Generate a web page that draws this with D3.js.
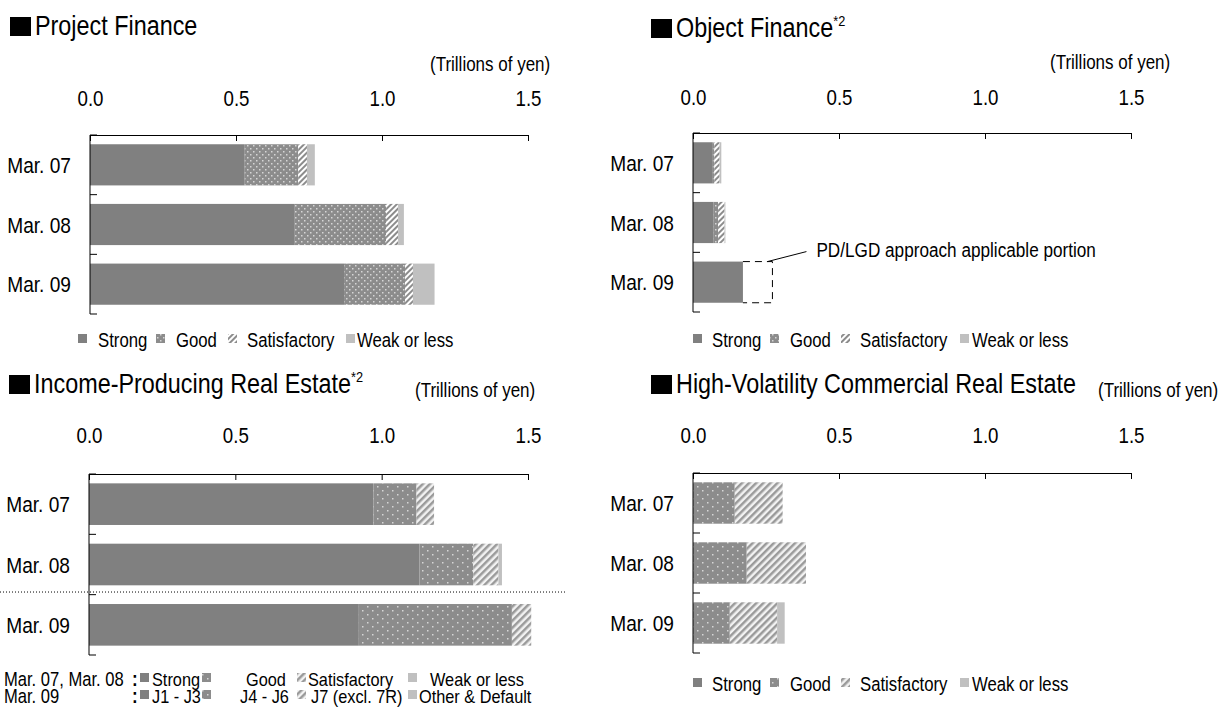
<!DOCTYPE html>
<html>
<head>
<meta charset="utf-8">
<script src="https://cdn.jsdelivr.net/npm/d3@7"></script>
<style>
body { margin: 0; background: #fff; }
svg text { font-family: "Liberation Sans Narrow", "Arial Narrow", "Liberation Sans", Arial, sans-serif; fill: #000; }
</style>
</head>
<body>
<svg id="svg1" width="1224" height="711"></svg>
<script>
// ---- data ----
var categories = ["Mar. 07", "Mar. 08", "Mar. 09"];
var tickValues = [0, 0.5, 1.0, 1.5];
var tickLabels = ["0.0", "0.5", "1.0", "1.5"];
var unitLabel = "(Trillions of yen)";
var gradeNames = ["Strong", "Good", "Satisfactory", "Weak or less"];
var gradeNames09 = ["J1 - J3", "J4 - J6", "J7 (excl. 7R)", "Other & Default"];

// Project Finance
var pfStrong       = [0.530, 0.699, 0.870];
var pfGood         = [0.183, 0.315, 0.209];
var pfSatisfactory = [0.030, 0.041, 0.027];
var pfWeak         = [0.027, 0.020, 0.074];

// Object Finance
var ofStrong       = [0.068, 0.071, 0.171];
var ofGood         = [0.005, 0.015, 0];
var ofSatisfactory = [0.018, 0.022, 0];
var ofWeak         = [0.006, 0.003, 0];
var ofPdLgd        = [0, 0, 0.101];   // dashed portion, Mar. 09

// Income-Producing Real Estate
var ipStrong       = [0.972, 1.129, 0.922];
var ipGood         = [0.147, 0.184, 0.523];
var ipSatisfactory = [0.060, 0.086, 0.066];
var ipWeak         = [0, 0.012, 0];

// High-Volatility Commercial Real Estate
var hvStrong       = [0, 0, 0];
var hvGood         = [0.143, 0.184, 0.126];
var hvSatisfactory = [0.164, 0.203, 0.162];
var hvWeak         = [0, 0, 0.026];

var svg = d3.select("#svg1");

// no narrow face installed, so squeeze the regular one
var SX = 0.85;
function label(parent, x, y, str, size, anchor) {
  return parent.append("text")
    .attr("transform", "translate(" + x + "," + y + ") scale(" + SX + ",1)")
    .attr("text-anchor", anchor || "start")
    .style("font-size", size + "px")
    .text(str);
}

// ---- patterns ----
var defs = svg.append("defs");

function dotPattern(id, w, h, pts) {
  var p = defs.append("pattern").attr("id", id).attr("patternUnits", "userSpaceOnUse")
    .attr("width", w).attr("height", h);
  p.append("rect").attr("width", w).attr("height", h).attr("fill", "#8c8c8c");
  pts.forEach(function(pt) {
    p.append("rect").attr("x", pt[0]).attr("y", pt[1]).attr("width", 1.5).attr("height", 1.5).attr("fill", "#d6d6d6");
  });
}
dotPattern("good", 6, 6, [[1, 1], [4, 4]]);
dotPattern("goodSparse", 10, 8, [[2, 2], [7, 6]]);

function stripePattern(id, w, c1, c2) {
  var p = defs.append("pattern").attr("id", id).attr("patternUnits", "userSpaceOnUse")
    .attr("width", w).attr("height", w).attr("patternTransform", "rotate(45)");
  p.append("rect").attr("width", w).attr("height", w).attr("fill", c2);
  p.append("rect").attr("width", w / 2).attr("height", w).attr("fill", c1);
}
stripePattern("sat", 4, "#8c8c8c", "#ffffff");
stripePattern("satSparse", 5, "#9a9a9a", "#f2f2f2");

var fillsTop = ["#808080", "url(#good)", "url(#sat)", "#c0c0c0"];
var fillsBottom = ["#808080", "url(#goodSparse)", "url(#satSparse)", "#c0c0c0"];

// ---- panel drawing ----
function drawPanel(p, series, fills) {
  var x = d3.scaleLinear().domain([0, 1.5]).range([p.x0, p.x1]);
  var y = d3.scaleBand().domain(categories).range([p.top, p.bottom])
    .paddingInner(0.31).paddingOuter(0.155);

  var g = svg.append("g");

  var rows = categories.map(function(c, i) {
    var o = { cat: c };
    series.forEach(function(s, k) { o["s" + k] = s[i]; });
    return o;
  });
  var layers = d3.stack().keys(series.map(function(s, k) { return "s" + k; }))(rows);

  layers.forEach(function(layer, k) {
    g.selectAll(null).data(layer).enter().append("rect")
      .attr("x", function(d) { return x(d[0]); })
      .attr("width", function(d) { return Math.max(0, x(d[1]) - x(d[0])); })
      .attr("y", function(d) { return y(d.data.cat); })
      .attr("height", y.bandwidth())
      .attr("fill", fills[k]);
  });

  // top axis, ticks pointing into the plot
  var ax = d3.axisTop(x).tickValues(tickValues)
    .tickFormat(function(d, i) { return tickLabels[i]; })
    .tickSizeInner(-6).tickSizeOuter(0).tickPadding(p.pad);
  var axg = g.append("g").attr("transform", "translate(0," + p.top + ")").call(ax);
  axg.attr("font-family", null).attr("font-size", null);
  axg.selectAll("text").style("font-size", "22px").attr("transform", "scale(" + SX + ",1)");
  axg.select(".domain").attr("stroke", "#000");

  // left axis with ticks between the bars
  g.append("line").attr("x1", p.x0).attr("x2", p.x0).attr("y1", p.top).attr("y2", p.bottom)
    .attr("stroke", "#000");
  g.selectAll(null).data(d3.range(0, categories.length + 1)).enter().append("line")
    .attr("x1", p.x0).attr("x2", p.x0 + 7)
    .attr("y1", function(i) { return p.top + i * y.step(); })
    .attr("y2", function(i) { return p.top + i * y.step(); })
    .attr("stroke", "#000");

  categories.forEach(function(c) {
    label(g, p.x0 - 19, y(c) + y.bandwidth() / 2, c, 22.5, "end").attr("dy", "0.36em");
  });

  // title
  svg.append("rect").attr("x", p.tx - 25).attr("y", p.ty - 18).attr("width", 21).attr("height", 19).attr("fill", "#000");
  var t = label(svg, p.tx, p.ty, p.title, 27.5);
  if (p.note) t.append("tspan").attr("dy", -11).style("font-size", "15px").text(p.note);

  label(svg, p.ux, p.uy, unitLabel, 20);

  return { x: x, y: y, g: g };
}

function drawLegend(names, fills, xs, yBase, size) {
  names.forEach(function(n, i) {
    svg.append("rect").attr("x", xs[i][0]).attr("y", yBase - 13).attr("width", 9).attr("height", 9)
      .attr("fill", fills[i]);
    label(svg, xs[i][1], yBase, n, size || 19.7);
  });
}

// Project Finance
var p1 = drawPanel({ x0: 90, x1: 528, top: 135, bottom: 314, pad: 29,
  title: "Project Finance", tx: 35, ty: 35, ux: 430, uy: 71 },
  [pfStrong, pfGood, pfSatisfactory, pfWeak], fillsTop);
drawLegend(gradeNames, fillsTop, [[78, 98], [156, 176], [228, 247], [346, 357]], 347);

// Object Finance
var p2 = drawPanel({ x0: 693, x1: 1131, top: 133, bottom: 312, pad: 28,
  title: "Object Finance", note: "*2", tx: 676, ty: 37, ux: 1050, uy: 69 },
  [ofStrong, ofGood, ofSatisfactory, ofWeak], fillsTop);
drawLegend(gradeNames, fillsTop, [[693, 712], [770, 790], [841, 860], [960, 972]], 347);

// dashed PD/LGD portion
(function() {
  var i = 2, c = categories[i];
  var xa = p2.x(ofStrong[i]), xb = p2.x(ofStrong[i] + ofPdLgd[i]);
  var ya = p2.y(c), yb = p2.y(c) + p2.y.bandwidth();
  p2.g.append("path")
    .attr("d", "M" + xa + "," + ya + "H" + xb + "V" + yb + "H" + xa)
    .attr("fill", "none").attr("stroke", "#000").attr("stroke-dasharray", "7,5");
  p2.g.append("line").attr("x1", xb - 5).attr("y1", ya).attr("x2", xb + 34).attr("y2", ya - 10)
    .attr("stroke", "#000");
  label(p2.g, xb + 44, ya - 5, "PD/LGD approach applicable portion", 20.2);
})();

// Income-Producing Real Estate
var p3 = drawPanel({ x0: 89, x1: 528, top: 474, bottom: 655, pad: 31,
  title: "Income-Producing Real Estate", note: "*2", tx: 34, ty: 393, ux: 415, uy: 397 },
  [ipStrong, ipGood, ipSatisfactory, ipWeak], fillsBottom);

// dotted separator between the two grading systems
svg.append("line").attr("x1", 0).attr("x2", 567)
  .attr("y1", p3.y(categories[2]) - 12).attr("y2", p3.y(categories[2]) - 12)
  .attr("stroke", "#000").attr("stroke-dasharray", "1,2");

// two-row legend
label(svg, 4, 686, "Mar. 07, Mar. 08", 19.5);
label(svg, 4, 703, "Mar. 09", 19.5);
label(svg, 132, 686, ":", 20).style("font-weight", "bold");
label(svg, 132, 703, ":", 20).style("font-weight", "bold");
drawLegend(gradeNames, fillsBottom, [[140, 152], [202, 246], [297, 308], [408, 430]], 686, 19.2);
drawLegend(gradeNames09, fillsBottom, [[140, 152], [202, 240], [297, 311], [408, 419]], 703, 19.2);

// High-Volatility Commercial Real Estate
var p4 = drawPanel({ x0: 693, x1: 1131, top: 473, bottom: 653, pad: 30,
  title: "High-Volatility Commercial Real Estate", tx: 676, ty: 393, ux: 1098, uy: 397 },
  [hvStrong, hvGood, hvSatisfactory, hvWeak], fillsBottom);
drawLegend(gradeNames, fillsBottom, [[693, 712], [770, 790], [841, 860], [960, 972]], 691);
</script>
</body>
</html>
